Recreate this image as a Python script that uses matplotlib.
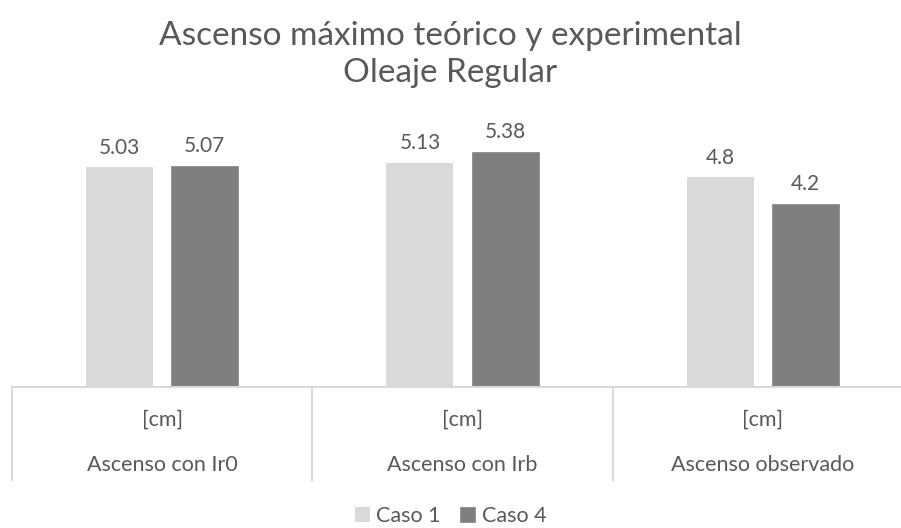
import matplotlib.pyplot as plt
from matplotlib import transforms

# Datos del gráfico
categorias = ["Ascenso con Ir0", "Ascenso con Irb", "Ascenso observado"]
unidades = ["[cm]", "[cm]", "[cm]"]
caso_1 = [5.03, 5.13, 4.8]
caso_4 = [5.07, 5.38, 4.2]
etiquetas_1 = ["5.03", "5.13", "4.8"]
etiquetas_4 = ["5.07", "5.38", "4.2"]
series = ["Caso 1", "Caso 4"]

plt.rcParams["font.family"] = ["Lato", "DejaVu Sans"]
texto = "#595959"


def main():
    fig = plt.figure(figsize=(9.01, 5.28), dpi=100)
    ax = fig.add_axes([12 / 901, 141 / 528, 901 / 901, 262 / 528])

    x = list(range(len(categorias)))
    ancho = 0.223
    desp = 0.1417
    b1 = ax.bar([i - desp for i in x], caso_1, ancho, color="#D9D9D9",
                label=series[0])
    b4 = ax.bar([i + desp for i in x], caso_4, ancho, color="#7F7F7F",
                edgecolor="#8C8C8C", linewidth=0.6, label=series[1])

    for barras, etiquetas in ((b1, etiquetas_1), (b4, etiquetas_4)):
        for barra, et in zip(barras, etiquetas):
            ax.annotate(et, (barra.get_x() + barra.get_width() / 2, barra.get_height()),
                        xytext=(0, 7), textcoords="offset points", ha="center",
                        va="bottom", fontsize=15, color=texto)

    ax.set_xlim(-0.5, 2.5)
    ax.set_ylim(0, 6)
    for lado in ("top", "right", "left"):
        ax.spines[lado].set_visible(False)
    ax.spines["bottom"].set_color("#D9D9D9")
    ax.spines["bottom"].set_linewidth(1.5)
    ax.set_xticks([])
    ax.set_yticks([])

    # Etiquetas de categoría en dos niveles
    trans = transforms.blended_transform_factory(ax.transData, ax.transAxes)
    for i in x:
        ax.text(i, -0.126, unidades[i], transform=trans, ha="center",
                va="center", fontsize=15.5, color=texto)
        ax.text(i, -0.298, categorias[i], transform=trans, ha="center",
                va="center", fontsize=15.5, color=texto)
    for xs in (-0.5, 0.5, 1.5, 2.5):
        ax.plot([xs, xs], [0, -0.355], transform=trans, color="#D9D9D9",
                lw=1.5, clip_on=False)

    fig.text(0.5, 1 - 21 / 528, "Ascenso máximo teórico y experimental\nOleaje Regular",
             ha="center", va="top", fontsize=24, color=texto, linespacing=1.3)

    fig.legend(handles=[b1, b4], loc="lower center", bbox_to_anchor=(0.5, -0.033),
               ncol=2, frameon=False, fontsize=15.5, labelcolor=texto,
               handlelength=0.7, handleheight=0.7, handletextpad=0.3,
               columnspacing=0.9)

    fig.savefig("out.png", dpi=100)


if __name__ == "__main__":
    main()
